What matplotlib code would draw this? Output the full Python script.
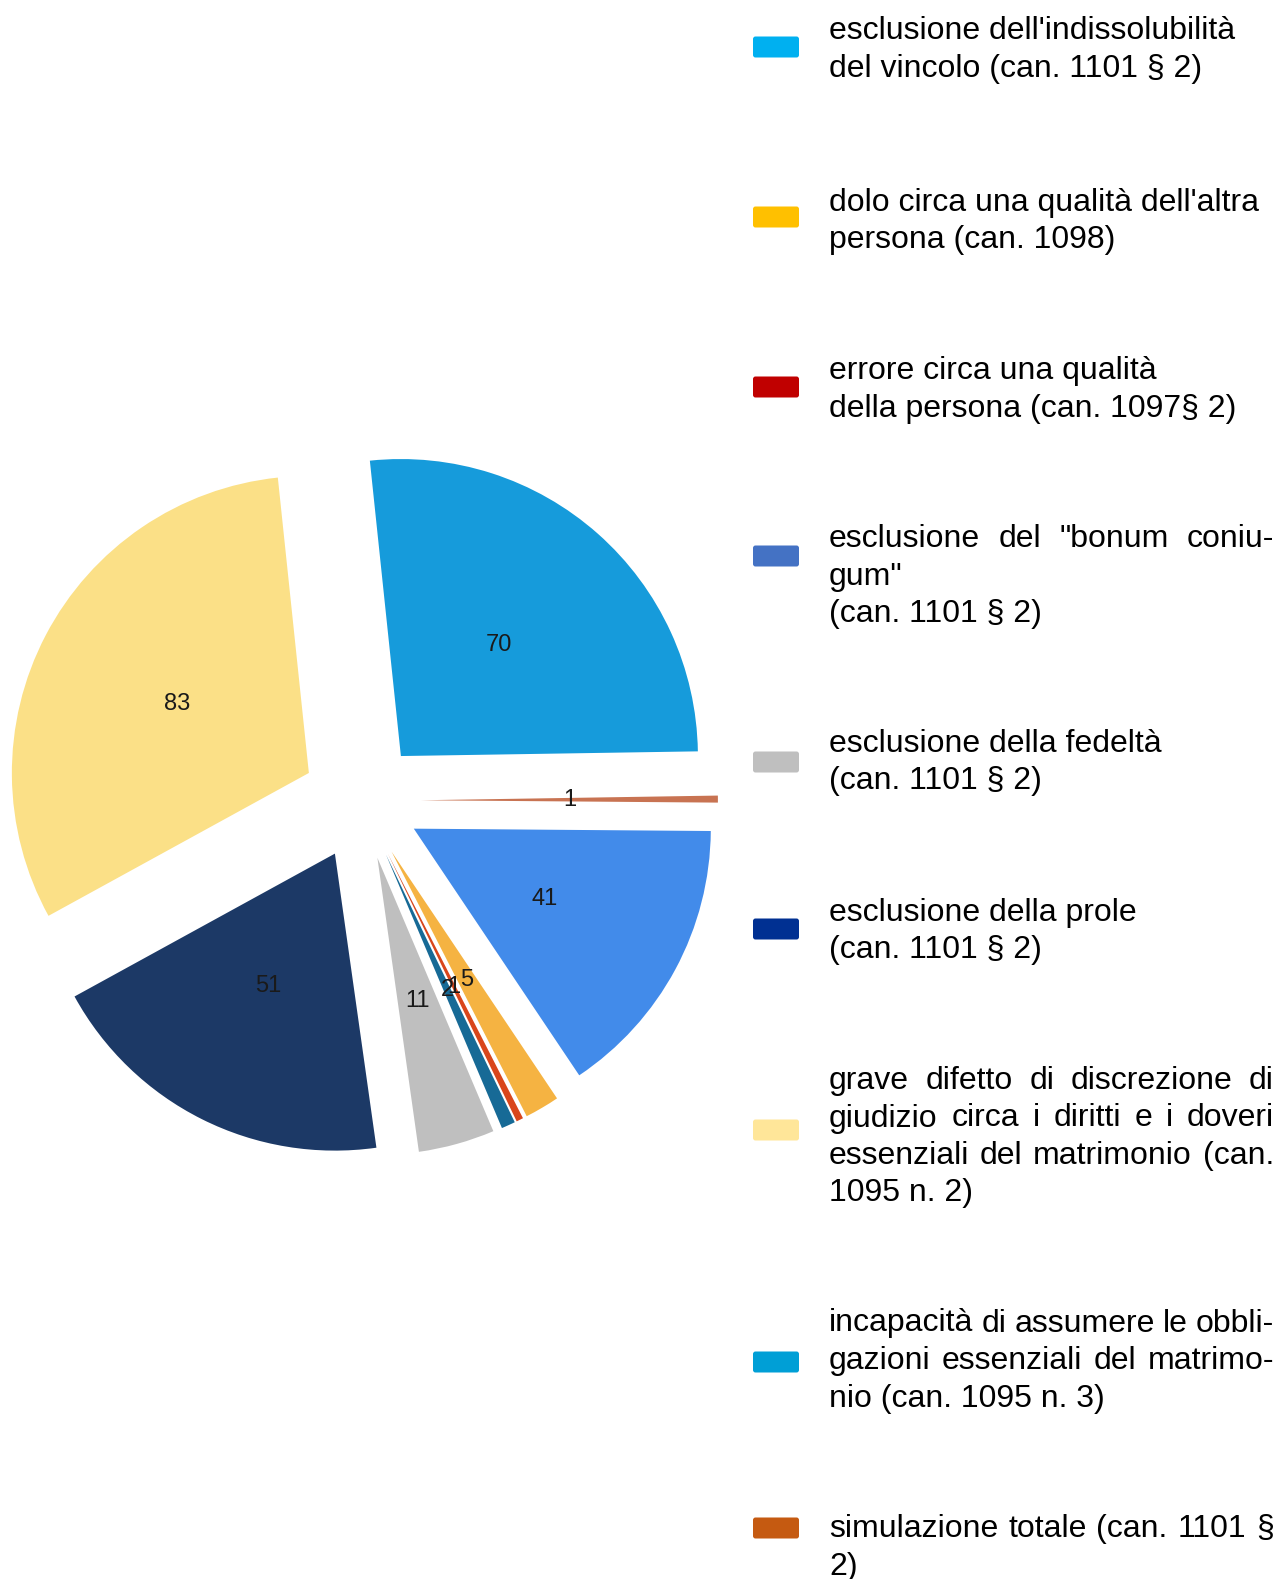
import matplotlib.pyplot as plt
from matplotlib.patches import FancyBboxPatch

plt.rcParams['font.family'] = ['Liberation Sans', 'DejaVu Sans']

# pie data (clockwise from the top)
pie_values = [70, 1, 41, 5, 1, 2, 11, 51, 83]
pie_colors = ['#169bdb', '#c87352', '#428bea', '#f5b342', '#d9461b',
              '#176a96', '#bfbfbf', '#1c3966', '#fbe087']

# legend data
legend_lines = [
    ["esclusione dell'indissolubilità", "del vincolo (can. 1101 § 2)"],
    ["dolo circa una qualità dell'altra", "persona (can. 1098)"],
    ["errore circa una qualità", "della persona (can. 1097§ 2)"],
    ['esclusione del "bonum coniu-', 'gum"', "(can. 1101 § 2)"],
    ["esclusione della fedeltà", "(can. 1101 § 2)"],
    ["esclusione della prole", "(can. 1101 § 2)"],
    ["grave difetto di discrezione di", "giudizio circa i diritti e i doveri",
     "essenziali del matrimonio (can.", "1095 n. 2)"],
    ["incapacità di assumere le obbli-", "gazioni essenziali del matrimo-",
     "nio (can. 1095 n. 3)"],
    ["simulazione totale (can. 1101 §", "2)"],
]
legend_colors = ['#00b0f0', '#ffc000', '#c00000', '#4472c4', '#bfbfbf',
                 '#003092', '#ffe699', '#009fd6', '#c55a11']
justified = [0, 0, 0, 1, 0, 0, 3, 2, 1]  # leading lines stretched to full width

# layout in output pixels
W, H = 1280, 1579
cx, cy, rad = 361.5, 800.5, 297
clip_x = 713
patch_y = [47, 217, 387, 556, 762, 929, 1130, 1362, 1528]
first_base = [39, 210.5, 379, 547, 752, 920.5, 1089, 1331.5, 1537]
line_gap = 37.5
text_x, text_right = 829, 1274
fs = 23

fig = plt.figure(figsize=(W / 100, H / 100), dpi=100)

ax = fig.add_axes([0, 0, clip_x / W, 1])
total = sum(pie_values)
ax.pie(pie_values, colors=pie_colors, startangle=96, counterclock=False,
       explode=[0.2] * len(pie_values), pctdistance=0.5,
       autopct=lambda p: f"{p * total / 100:.0f}",
       wedgeprops=dict(linewidth=0),
       textprops=dict(fontsize=17, color='#1a1a1a'))
ax.set_aspect('auto')
ax.set_xlim(-cx / rad, (clip_x - cx) / rad)
ax.set_ylim(-(H - cy) / rad, cy / rad)
ax.axis('off')

# overlay in pixel coordinates for the legend
lg = fig.add_axes([0, 0, 1, 1])
lg.set_xlim(0, W)
lg.set_ylim(H, 0)
lg.axis('off')

fig.canvas.draw()
r = fig.canvas.get_renderer()


def word_width(w):
    t = lg.text(0, 0, w, fontsize=fs)
    wd = t.get_window_extent(renderer=r).width
    t.remove()
    return wd


for i, lines in enumerate(legend_lines):
    lg.add_patch(FancyBboxPatch((753, patch_y[i] - 10.5), 46, 21,
                                boxstyle='round,pad=0,rounding_size=2.5',
                                fc=legend_colors[i], ec='none'))
    for k, line in enumerate(lines):
        y = first_base[i] + k * line_gap
        words = line.split(' ')
        if k < justified[i] and len(words) > 1:
            widths = [word_width(w) for w in words]
            gap = (text_right - text_x - sum(widths)) / (len(words) - 1)
            x = text_x
            for w, wd in zip(words, widths):
                lg.text(x, y, w, fontsize=fs, va='baseline', color='black')
                x += wd + gap
        else:
            lg.text(text_x, y, line, fontsize=fs, va='baseline', color='black')

fig.savefig('out.png', dpi=100)
